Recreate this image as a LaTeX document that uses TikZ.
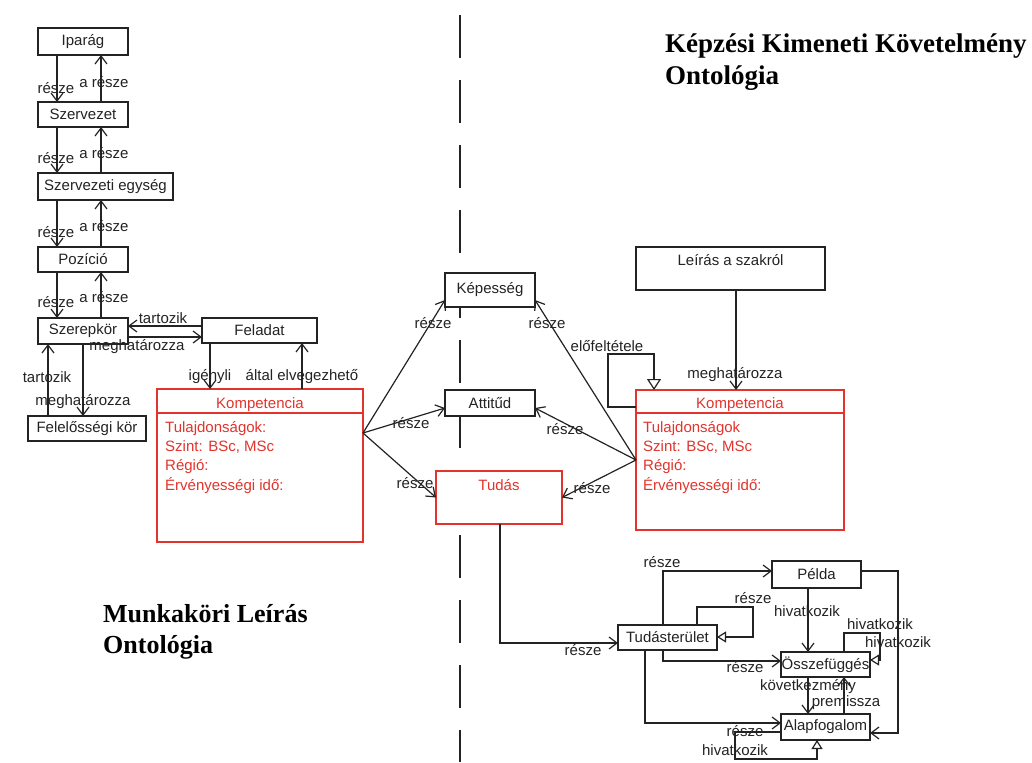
\documentclass[tikz,border=0pt]{standalone}
\usepackage{fontspec}
\setmainfont{Liberation Serif}
\newfontfamily\lab{Liberation Sans}
\usetikzlibrary{arrows.meta,calc}
\definecolor{ink}{RGB}{35,35,35}
\definecolor{kred}{RGB}{226,52,44}
\begin{document}
\begin{tikzpicture}[x=1pt,y=-1pt,
  lf/.style={font=\lab\fontsize{15}{18}\selectfont},
  box/.style={lf, draw=ink, line width=1.3pt, fill=white, inner sep=0pt, outer sep=0pt, text=ink},
  rbox/.style={draw=kred, line width=1.1pt, fill=white, inner sep=0pt, outer sep=0pt},
  lbl/.style={lf, text=ink, inner sep=0pt},
  rtxt/.style={lf, text=kred, inner sep=0pt},
  attr/.style={rtxt, anchor=base west},
  conn/.style={draw=ink, line width=1.2pt},
  arr/.style={conn, -{Straight Barb[length=8pt,width=12pt]}},
  tri/.style={conn, -{Triangle[open,length=11pt,width=14pt,fill=white]}},
  tris/.style={conn, -{Triangle[open,length=9pt,width=11pt,fill=white]}},
  ttl/.style={font=\bfseries\fontsize{26}{31}\selectfont, text=black, inner sep=0pt, anchor=base west}
]
\useasboundingbox (0,0) rectangle (1032,762);
\fill[white] (0,0) rectangle (1032,762);

% dividing line between the two ontologies
\coordinate (divT) at (460,15);
\coordinate (divB) at (460,762);
\draw[ink, line width=1.5pt, dash pattern=on 43pt off 22pt] (divT) -- (divB);

% titles
\node[ttl, font=\bfseries\fontsize{27}{31}\selectfont] (t1a) at (665,53) {Képzési Kimeneti Követelmény};
\node[ttl, font=\bfseries\fontsize{27}{31}\selectfont] (t1b) at (665,85) {Ontológia};
\node[ttl] (t2a) at (103,622) {Munkaköri Leírás};
\node[ttl] (t2b) at (103,653) {Ontológia};

% ---------- job description ontology ----------
\node[box, minimum width=90, minimum height=27] (iparag) at (83,41.5) {Iparág};
\node[box, minimum width=90, minimum height=25] (szervezet) at (83,114.5) {Szervezet};
\node[box, minimum width=135, minimum height=27] (egyseg) at (105.5,186.5) {Szervezeti egység};
\node[box, minimum width=90, minimum height=25] (pozicio) at (83,259.5) {Pozíció};
\node[box, minimum width=90, minimum height=26] (szerep) at (83,331) {Szerepkör};
\node[box, minimum width=118, minimum height=25] (felelos) at (87,428.5) {Felelősségi kör};
\node[box, minimum width=115, minimum height=25] (feladat) at (259.5,330.5) {Feladat};

\foreach \a/\b in {iparag/szervezet, szervezet/egyseg, egyseg/pozicio, pozicio/szerep} {
  \draw[arr] (\a.south -| 57,0) -- (\b.north -| 57,0);
  \draw[arr] (\b.north -| 101,0) -- (\a.south -| 101,0);
}
\foreach \y [count=\i] in {88,158,232,302} {
  \node[lbl] (resz\i) at (56,\y) {része};
}
\foreach \y [count=\i] in {82,153,226,297} {
  \node[lbl] (aresz\i) at (104,\y) {a része};
}

\draw[arr] (feladat.west |- 0,326) -- (szerep.east |- 0,326);
\draw[arr] (szerep.east |- 0,337) -- (feladat.west |- 0,337);
\node[lbl] (ltart1) at (163,318) {tartozik};
\node[lbl] (lmegh1) at (137,347) {meghatározza};

\draw[arr] (felelos.north -| 48,0) -- (szerep.south -| 48,0);
\draw[arr] (szerep.south -| 83,0) -- (felelos.north -| 83,0);
\node[lbl] (ltart2) at (47,377) {tartozik};
\node[lbl] (lmegh2) at (83,402) {meghatározza};

% competence of the job description
\node[rbox, minimum width=206, minimum height=153] (kompL) at (260,465.5) {};
\draw[kred, line width=1.1pt] (kompL.west |- 0,413) -- (kompL.east |- 0,413);
\node[rtxt, anchor=base] (kompLh) at (260,408.5) {Kompetencia};
\node[attr] (kLa1) at (165,432) {Tulajdonságok:};
\node[attr] (kLa2) at (165,451) {Szint: BSc, MSc};
\node[attr] (kLa3) at (165,470) {Régió:};
\node[attr] (kLa4) at (165,490) {Érvényességi idő:};

\draw[arr] (feladat.south -| 210,0) -- (kompL.north -| 210,0);
\draw[arr] (kompL.north -| 302,0) -- (feladat.south -| 302,0);
\node[lbl] (ligeny) at (210,377) {igényli};
\node[lbl] (laltal) at (302,377) {által elvegezhető};

% ---------- shared concepts ----------
\node[box, minimum width=90, minimum height=34] (kepesseg) at (490,290) {Képesség};
\node[box, minimum width=90, minimum height=26] (attitud) at (490,403) {Attitűd};
\node[rbox, minimum width=126, minimum height=53] (tudas) at (499,497.5) {};
\node[rtxt] (tudasT) at (499,485) {Tudás};

\coordinate (kL) at (kompL.east |- 0,433);
\draw[arr] (kL) -- (kepesseg.west |- 0,300);
\draw[arr] (kL) -- (attitud.west |- 0,408);
\draw[arr] (kL) -- (tudas.west);
\node[lbl] (lr1) at (433,323) {része};
\node[lbl] (lr2) at (411,423) {része};
\node[lbl] (lr3) at (415,483) {része};

% ---------- training outcome ontology ----------
\node[box, minimum width=189, minimum height=43] (leiras) at (730.5,268.5) {};
\node[lbl] (leirasT) at (730.5,260) {Leírás a szakról};

\node[rbox, minimum width=208, minimum height=140] (kompR) at (740,460) {};
\draw[kred, line width=1.1pt] (kompR.west |- 0,413) -- (kompR.east |- 0,413);
\node[rtxt, anchor=base] (kompRh) at (740,408) {Kompetencia};
\node[attr] (kRa1) at (643,432) {Tulajdonságok};
\node[attr] (kRa2) at (643,451) {Szint: BSc, MSc};
\node[attr] (kRa3) at (643,470) {Régió:};
\node[attr] (kRa4) at (643,490) {Érvényességi idő:};

\draw[arr] (leiras.south -| 736,0) -- (kompR.north -| 736,0);
\node[lbl] (lmegh3) at (735,375) {meghatározza};

\draw[tri] (kompR.west |- 0,407) -- (608,407) -- (608,354) -- (654,354) -- (kompR.north -| 654,0);
\node[lbl] (lelo) at (607,346) {előfeltétele};

\coordinate (kR) at (kompR.west |- 0,460);
\draw[arr] (kR) -- (kepesseg.east |- 0,300);
\draw[arr] (kR) -- (attitud.east |- 0,408);
\draw[arr] (kR) -- (tudas.east);
\node[lbl] (lr4) at (547,323) {része};
\node[lbl] (lr5) at (565,429) {része};
\node[lbl] (lr6) at (592,488) {része};

% knowledge structure
\node[box, minimum width=99, minimum height=25] (terulet) at (667.5,637.5) {Tudásterület};
\node[box, line width=1.8pt, minimum width=89, minimum height=27] (pelda) at (816.5,574.5) {Példa};
\node[box, line width=1.7pt, minimum width=89, minimum height=25] (ossze) at (825.5,664.5) {Összefüggés};
\node[box, minimum width=89, minimum height=26] (alap) at (825.5,727) {Alapfogalom};

\draw[arr] (tudas.south -| 500,0) -- (500,643) -- (terulet.west |- 0,643);
\node[lbl] (lr7) at (583,650) {része};

\draw[arr] (terulet.north -| 663,0) -- (663,571) -- (pelda.west |- 0,571);
\node[lbl] (lr8) at (662,562) {része};
\draw[tris] (terulet.north -| 697,0) -- (697,607) -- (753,607) -- (753,637) -- (terulet.east |- 0,637);
\node[lbl] (lr9) at (753,598) {része};
\draw[arr] (terulet.south -| 663,0) -- (663,661) -- (ossze.west |- 0,661);
\node[lbl] (lr10) at (745,667) {része};
\draw[arr] (terulet.south -| 645,0) -- (645,723) -- (alap.west |- 0,723);
\node[lbl] (lr11) at (745,731) {része};

\draw[tris] (alap.west |- 0,732) -- (735,732) -- (735,759) -- (817,759) -- (alap.south -| 817,0);
\node[lbl] (lh1) at (735,750) {hivatkozik};

\draw[arr] (pelda.south -| 808,0) -- (ossze.north -| 808,0);
\node[lbl] (lh2) at (807,611) {hivatkozik};
\draw[arr] (pelda.east |- 0,571) -- (898,571) -- (898,733) -- (alap.east |- 0,733);

\draw[tris] (ossze.north -| 844,0) -- (844,633) -- (880,633) -- (880,660) -- (ossze.east |- 0,660);
\node[lbl] (lh3) at (880,624) {hivatkozik};
\node[lbl] (lh4) at (898,642) {hivatkozik};

\draw[arr] (ossze.south -| 808,0) -- (alap.north -| 808,0);
\node[lbl] (lkov) at (808,687) {következmény};
\draw[arr] (alap.north -| 844,0) -- (ossze.south -| 844,0);
\node[lbl] (lprem) at (846,703) {premissza};
\end{tikzpicture}
\end{document}
